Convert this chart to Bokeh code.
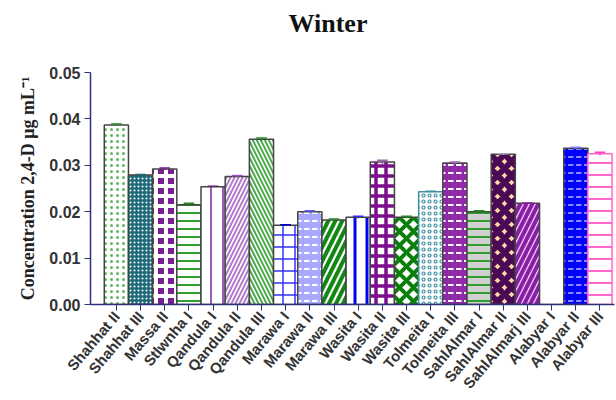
import math
from bokeh.plotting import figure
from bokeh.models import Range1d, FixedTicker, PrintfTickFormatter, ColumnDataSource
from bokeh.embed import file_html
from bokeh.resources import INLINE

title_text = "Winter"
sites = ["Shahhat II", "Shahhat III", "Massa II", "Stlwnha I", "Qandula I", "Qandula II",
         "Qandula III", "Marawa I", "Marawa II", "Marawa III", "Wasita I", "Wasita II",
         "Wasita III", "Tolmeita I", "Tolmeita III", "SahlAlmar I", "SahlAlmar II",
         "SahlAlmarj III", "Alabyar I", "Alabyar II", "Alabyar III"]
conc = [0.0387, 0.0279, 0.0292, 0.0215, 0.0254, 0.0276, 0.0356, 0.0171, 0.0200, 0.0182,
        0.0188, 0.0307, 0.0188, 0.0243, 0.0305, 0.0200, 0.0324, 0.0218, 0.0, 0.0337, 0.0325]
err = [0.0002, 0.0001, 0.0002, 0.0003, 0.0001, 0.0002, 0.0003, 0.0001, 0.0002, 0.0002,
       0.0002, 0.0004, 0.0002, 0.0001, 0.0002, 0.0002, 0.0001, 0.0001, 0.0, 0.0002, 0.0003]
y_ticks = [0.0, 0.01, 0.02, 0.03, 0.04, 0.05]

fills = ["white", "#1d6b78", "#7a1e96", "white", "white", "white", "white", "white",
         "#a9a9ff", "white", "white", "white", "white", "white", "#8e2aa8", "#d0d0d0",
         "#ffd9a8", "#ecc8f4", "white", "#0000ff", "white"]
hatches = ["dot", "dot", "cross", "horizontal_line", "vertical_line",
           "right_diagonal_line", "left_diagonal_line", "cross", "horizontal_dash",
           "right_diagonal_line", "vertical_line", "cross", "diagonal_cross", "ring",
           "horizontal_dash", "horizontal_line", "diagonal_cross", "right_diagonal_line",
           " ", "horizontal_dash", "horizontal_line"]
hcolors = ["#5cb85c", "white", "white", "#2e9e2e", "#9a5fb0", "#b27cc8", "#4fa84f",
           "#3333ff", "white", "#118811", "#0000ee", "#7d0f8f", "#0a7f0a", "#3f8fa0",
           "white", "#2e9e2e", "#4a0a55", "#8a1fa5", "white", "#8a8aff", "#ff66cc"]
hscale = [6, 4, 10, 8, 12, 8, 8, 12, 8, 14, 12, 10, 14, 6, 8, 8, 14, 12, 8, 8, 12]
hweight = [2, 2, 4, 2, 2, 2, 2, 1.5, 2, 4, 3, 3.5, 4, 1.2, 2, 2, 6, 4, 1, 2, 2]
lcolors = ["#444444"] * 21
lcolors[13] = "#3f8fa0"
lcolors[20] = "#ff66cc"
ecolors = ["#228822", "#1d6b78", "#7a1e96", "#228822", "#5a2070", "#a050c0", "#228822",
           "#0000cc", "#6060ff", "#228822", "#3030ff", "#a060b0", "#228822", "#3f8fa0",
           "#a070b0", "#228822", "#b0a0c0", "#8a1fa5", "white", "#8080ff", "#ff44bb"]

x = list(range(len(sites)))
src = ColumnDataSource(dict(x=x, top=conc, fill=fills, hatch=hatches, hc=hcolors,
                            hs=hscale, hw=hweight, lc=lcolors,
                            lo=[c - e for c, e in zip(conc, err)],
                            hi=[c + e for c, e in zip(conc, err)],
                            x0=[i - 0.22 for i in x], x1=[i + 0.22 for i in x],
                            ec=ecolors))

p = figure(width=616, height=400, output_backend="svg", toolbar_location=None,
           x_range=Range1d(-1.07, 20.6), y_range=Range1d(0, 0.05),
           min_border_left=90, min_border_right=2, min_border_top=0, min_border_bottom=0)
p.title.text = title_text + "\n "
p.title.align = "left"
p.title.offset = 198
p.title.text_font = "Liberation Serif"
p.title.text_font_size = "26px"
p.title.text_font_style = "bold"
p.title.text_color = "#111111"
p.title.standoff = 12

p.vbar(x="x", top="top", width=1.0, bottom=0, source=src, fill_color="fill",
       hatch_pattern="hatch", hatch_color="hc", hatch_scale="hs", hatch_weight="hw",
       line_color="lc", line_width=1.5)
p.segment(x0="x", x1="x", y0="lo", y1="hi", source=src, line_color="ec", line_width=1.5)
p.segment(x0="x0", x1="x1", y0="hi", y1="hi", source=src, line_color="ec", line_width=1.5)

p.xgrid.visible = False
p.ygrid.visible = False
p.outline_line_color = None

ax = p.xaxis[0]
ax.ticker = FixedTicker(ticks=x)
ax.major_label_overrides = {i: s for i, s in enumerate(sites)}
ax.major_label_orientation = 0.87
ax.major_label_text_font = "Liberation Sans"
ax.major_label_text_font_style = "bold"
ax.major_label_text_font_size = "15px"
ax.major_label_text_color = "#333333"
ax.axis_line_color = "#30307a"
ax.major_tick_line_color = "#30307a"
ax.major_tick_out = 6
ax.major_tick_in = 0
ax.minor_tick_line_color = None
ax.axis_line_width = 1.5
ax.major_label_standoff = 3

ay = p.yaxis[0]
ay.ticker = FixedTicker(ticks=y_ticks)
ay.formatter = PrintfTickFormatter(format="%.2f")
ay.major_label_text_font = "Liberation Sans"
ay.major_label_text_font_style = "bold"
ay.major_label_text_font_size = "16px"
ay.major_label_text_color = "#333333"
ay.axis_line_color = "#30307a"
ay.major_tick_line_color = "#30307a"
ay.major_tick_out = 6
ay.major_tick_in = 0
ay.minor_tick_line_color = None
ay.axis_line_width = 1.5
ay.major_label_standoff = 4
ay.axis_label = "Concentration 2,4-D \u03bcg mL\u207b\u00b9"
ay.axis_label_text_font = "Liberation Serif"
ay.axis_label_text_font_style = "bold"
ay.axis_label_text_font_size = "18px"
ay.axis_label_text_color = "#222222"
ay.axis_label_standoff = 8

open("out.html", "w").write(file_html(p, INLINE))
